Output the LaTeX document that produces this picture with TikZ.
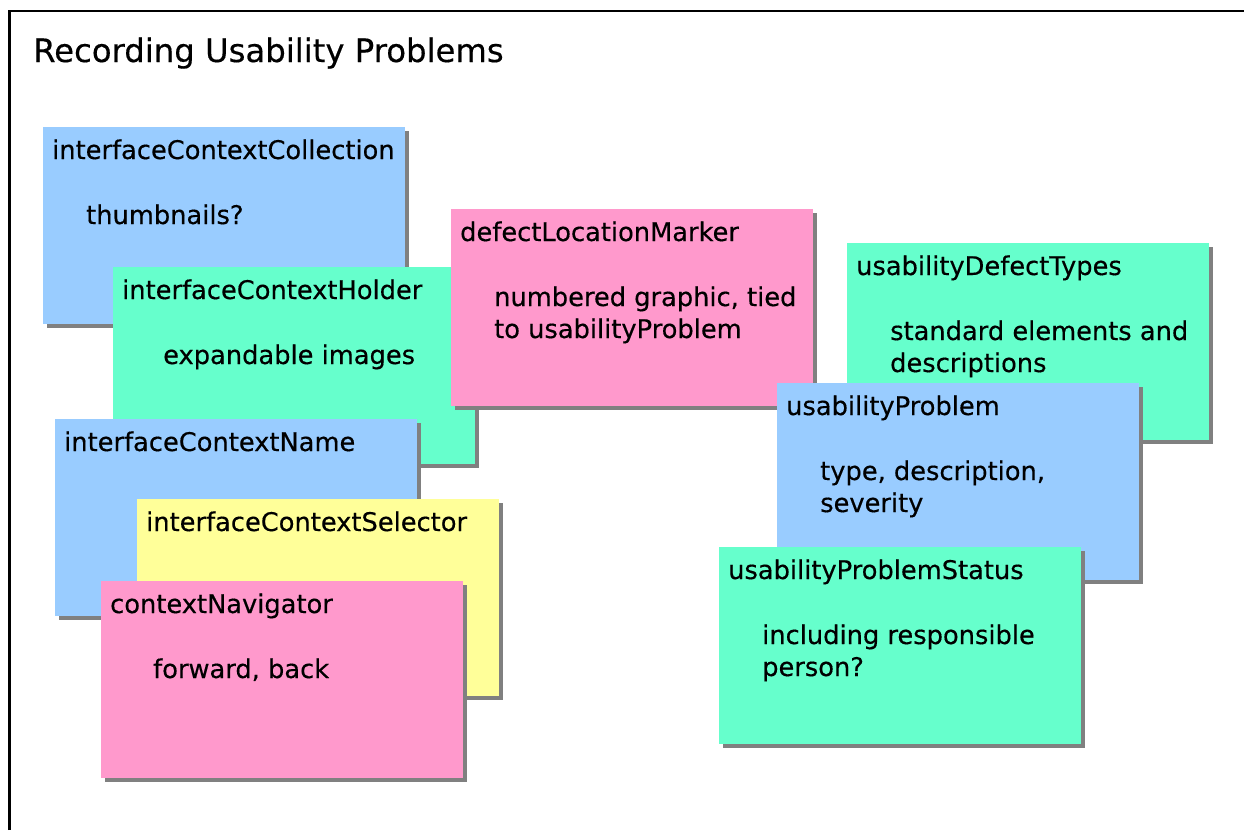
\documentclass[tikz,border=0pt]{standalone}
\usepackage{fontspec}
\setmainfont{DejaVu Sans}[BoldFont=DejaVu Sans, BoldFeatures={FakeBold=0.4}]
\usetikzlibrary{shadows}
\definecolor{cblue}{HTML}{99CCFF}
\definecolor{cgreen}{HTML}{66FFCC}
\definecolor{cpink}{HTML}{FF99CC}
\definecolor{cyellow}{HTML}{FFFF99}
\definecolor{cshadow}{HTML}{808080}
\begin{document}
\begin{tikzpicture}[x=1pt,y=-1pt,
  card/.style={anchor=north west, minimum width=362pt, minimum height=197pt,
    inner sep=0pt, draw=none,
    drop shadow={shadow xshift=4pt, shadow yshift=-4pt, fill=cshadow, opacity=1}},
  hdr/.style={anchor=base west, inner sep=0pt, font=\fontsize{25.7}{32}\selectfont\bfseries},
  bdy/.style={anchor=base west, inner sep=0pt, font=\fontsize{25.7}{32}\selectfont\bfseries},
  ttl/.style={anchor=base west, inner sep=0pt, font=\fontsize{32.3}{38}\selectfont\bfseries},
  frameline/.style={line width=2.8pt}
]
\useasboundingbox (0,0) rectangle (1244,830);
\fill[white] (0,0) rectangle (1244,830);
\draw[frameline] (9.3,830) -- (9.3,11) -- (1244,11);

\node[ttl] (title) at (33,62) {Recording Usability Problems};

% interfaceContextCollection
\node[card, fill=cblue] (c1) at (43,127) {};
\node[hdr] (c1h) at ([shift={(9,32)}]c1.north west) {interfaceContextCollection};
\node[bdy] (c1b) at ([shift={(43,97)}]c1.north west) {thumbnails?};

% interfaceContextHolder
\node[card, fill=cgreen] (c2) at (113,267) {};
\node[hdr] (c2h) at ([shift={(9,32)}]c2.north west) {interfaceContextHolder};
\node[bdy] (c2b) at ([shift={(50,97)}]c2.north west) {expandable images};

% defectLocationMarker
\node[card, fill=cpink] (c3) at (451,209) {};
\node[hdr] (c3h) at ([shift={(9,32)}]c3.north west) {defectLocationMarker};
\node[bdy] (c3b) at ([shift={(43,97)}]c3.north west) {\begin{tabular}[t]{@{}l@{}}numbered graphic, tied\\to usabilityProblem\end{tabular}};

% interfaceContextName
\node[card, fill=cblue] (c6) at (55,419) {};
\node[hdr] (c6h) at ([shift={(9,32)}]c6.north west) {interfaceContextName};

% interfaceContextSelector
\node[card, fill=cyellow] (c7) at (137,499) {};
\node[hdr] (c7h) at ([shift={(9,32)}]c7.north west) {interfaceContextSelector};

% contextNavigator
\node[card, fill=cpink] (c8) at (101,581) {};
\node[hdr] (c8h) at ([shift={(9,32)}]c8.north west) {contextNavigator};
\node[bdy] (c8b) at ([shift={(52,97)}]c8.north west) {forward, back};

% usabilityDefectTypes
\node[card, fill=cgreen] (c4) at (847,243) {};
\node[hdr] (c4h) at ([shift={(9,32)}]c4.north west) {usabilityDefectTypes};
\node[bdy] (c4b) at ([shift={(43,97)}]c4.north west) {\begin{tabular}[t]{@{}l@{}}standard elements and\\descriptions\end{tabular}};

% usabilityProblem
\node[card, fill=cblue] (c5) at (777,383) {};
\node[hdr] (c5h) at ([shift={(9,32)}]c5.north west) {usabilityProblem};
\node[bdy] (c5b) at ([shift={(43,97)}]c5.north west) {\begin{tabular}[t]{@{}l@{}}type, description,\\severity\end{tabular}};

% usabilityProblemStatus
\node[card, fill=cgreen] (c9) at (719,547) {};
\node[hdr] (c9h) at ([shift={(9,32)}]c9.north west) {usabilityProblemStatus};
\node[bdy] (c9b) at ([shift={(43,97)}]c9.north west) {\begin{tabular}[t]{@{}l@{}}including responsible\\person?\end{tabular}};
\end{tikzpicture}
\end{document}
